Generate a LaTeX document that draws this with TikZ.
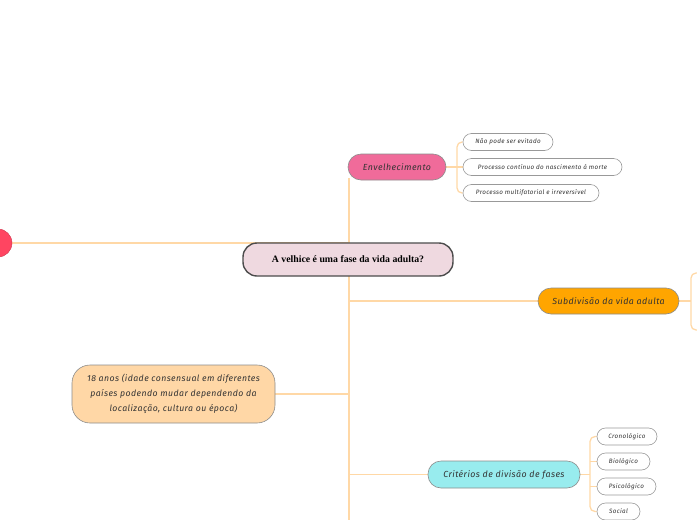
\documentclass[tikz,border=0pt]{standalone}
\usepackage{fontspec}
\usetikzlibrary{backgrounds}
\setmainfont{Liberation Serif}
\newfontfamily\hand{Fira Sans}[LetterSpace=5]
\definecolor{linec}{HTML}{FFD8A6}
\definecolor{mainfill}{HTML}{EFD9E0}
\definecolor{envfill}{HTML}{F06B9A}
\definecolor{subfill}{HTML}{FFA500}
\definecolor{agefill}{HTML}{FFD7A6}
\definecolor{critfill}{HTML}{98ECEE}
\definecolor{redc}{HTML}{FF4561}
\definecolor{txt}{HTML}{333333}
\begin{document}
\begin{tikzpicture}[x=1pt,y=-1pt,
  conn/.style={draw=linec,line width=1.3pt},
  topic/.style={draw=black!45,line width=0.6pt,rounded corners=13pt,inner sep=0pt,
     font=\hand\itshape\fontsize{8.8}{10}\selectfont,text=txt},
  leaf/.style={draw=black!40,fill=white,line width=0.6pt,rounded corners=8.5pt,inner sep=0pt,
     minimum height=17pt,font=\hand\itshape\fontsize{6.3}{7}\selectfont,text=txt}]
\useasboundingbox (0,0) rectangle (697,520);
% nodes
\node[circle,fill=redc,draw=redc!80!black,line width=0.4pt,minimum size=28pt,inner sep=0pt] (red) at (-2,243) {};
\node[draw=black!70,fill=mainfill,line width=1.4pt,rounded corners=14pt,minimum width=210pt,minimum height=33pt,
  inner sep=0pt,font=\bfseries\fontsize{9.8}{11}\selectfont] (main) at (348,259.5) {A velhice é uma fase da vida adulta?};
\node[topic,fill=envfill,minimum width=98pt,minimum height=26pt] (env) at (397,167) {Envelhecimento};
\node[leaf,minimum width=90pt] (n1) at (508,142) {Não pode ser evitado};
\node[leaf,minimum width=159pt] (n2) at (542.5,167) {Processo contínuo do nascimento à morte};
\node[leaf,minimum width=136pt] (n3) at (531,193) {Processo multifatorial e irreversível};
\node[topic,fill=subfill,minimum width=141pt,minimum height=26pt] (sub) at (608.5,301) {Subdivisão da vida adulta};
\node[topic,fill=agefill,minimum width=203pt,minimum height=58pt,rounded corners=18pt,align=center,
  font=\hand\itshape\fontsize{8.7}{15}\selectfont] (age) at (173.5,394)
  {18 anos (idade consensual em diferentes\\países podendo mudar dependendo da\\localização, cultura ou época)};
\node[topic,fill=critfill,minimum width=152pt,minimum height=27pt] (crit) at (504,474.5) {Critérios de divisão de fases};
\node[leaf,minimum width=60pt] (c1) at (627,436.5) {Cronológico};
\node[leaf,minimum width=53pt] (c2) at (623.5,461.5) {Biológico};
\node[leaf,minimum width=59pt] (c3) at (626.5,486.5) {Psicológico};
\node[leaf,minimum width=43pt] (c4) at (618.5,511.5) {Social};
% coordinates
\coordinate (tTop) at (349,178);
\coordinate (tBot) at (349,525);
\coordinate (eJ) at (457,167);
\coordinate (sJ) at (691,301);
\coordinate (sT) at (700,273);
\coordinate (sB) at (700,330);
\coordinate (cJ) at (590,474.5);
% connectors
\begin{scope}[on background layer]
\draw[conn] (tTop) -- (tBot);
\draw[conn] (red.east) -- (red.east -| tTop);
\draw[conn] (sub.west) -- (sub.west -| tTop);
\draw[conn] (age.east) -- (age.east -| tTop);
\draw[conn] (crit.west) -- (crit.west -| tTop);
\draw[conn] (env.east) -- (n2.west);
\draw[conn,rounded corners=5pt] (n1.west) -| (eJ) |- (n3.west);
\draw[conn] (sub.east) -- (sJ);
\draw[conn,rounded corners=5pt] (sT) -| (sJ) |- (sB);
\draw[conn] (crit.east) -- (cJ);
\draw[conn,rounded corners=5pt] (c1.west) -| (cJ) |- (c4.west);
\draw[conn] (cJ |- c2.west) -- (c2.west);
\draw[conn] (cJ |- c3.west) -- (c3.west);
\end{scope}
\end{tikzpicture}
\end{document}
